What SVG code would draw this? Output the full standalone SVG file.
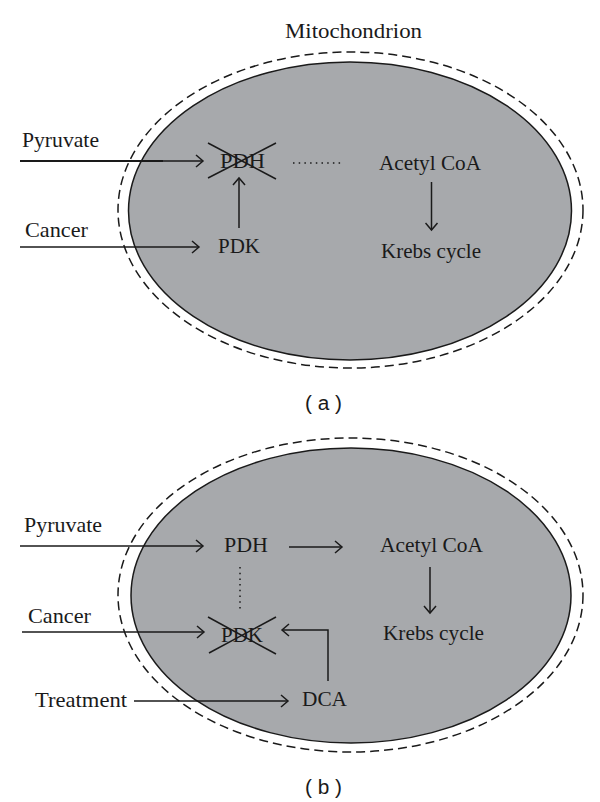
<svg xmlns="http://www.w3.org/2000/svg" width="600" height="802" viewBox="0 0 600 802">
<style>
.t{font-family:"Liberation Serif","Times New Roman",serif;font-size:21.5px;fill:#1a1a1a}
.lab{font-family:"Liberation Sans",Arial,sans-serif;font-size:20px;fill:#1a1a1a}
.ln{stroke:#1a1a1a;stroke-width:1.5;fill:none}
.cell{fill:#a7a9ac;stroke:#1a1a1a;stroke-width:1.5}
.mem{fill:none;stroke:#1a1a1a;stroke-width:1.5;stroke-dasharray:9 5}
.dot{stroke:#1a1a1a;stroke-width:1.5;fill:none;stroke-dasharray:1.5 4.2}
</style>
<defs>
<marker id="ah" markerWidth="12" markerHeight="14" refX="9" refY="7" orient="auto" markerUnits="userSpaceOnUse">
<path d="M2,1 L9,7 L2,13" fill="none" stroke="#1a1a1a" stroke-width="1.5"/>
</marker>
</defs>
<rect width="600" height="802" fill="#fff"/>

<!-- Panel (a) -->
<g id="mito-a">
<ellipse class="mem" cx="350.5" cy="210" rx="232.5" ry="158"/>
<ellipse class="cell" cx="350" cy="211" rx="221.5" ry="149"/>
<text class="t" x="285" y="38" textLength="137" lengthAdjust="spacingAndGlyphs">Mitochondrion</text>
</g>
<g id="pyruvate-a"><text class="t" x="22" y="147" textLength="77" lengthAdjust="spacingAndGlyphs">Pyruvate</text></g>
<g id="cancer-a"><text class="t" x="25" y="237" textLength="63" lengthAdjust="spacingAndGlyphs">Cancer</text></g>
<g id="pdh-a">
<text class="t" x="220" y="168" textLength="45" lengthAdjust="spacingAndGlyphs">PDH</text>
<line class="ln" x1="208" y1="143" x2="276" y2="179"/>
<line class="ln" x1="208" y1="178" x2="276" y2="143"/>
</g>
<g id="pdk-a"><text class="t" x="218" y="253" textLength="42" lengthAdjust="spacingAndGlyphs">PDK</text></g>
<g id="acetyl-a"><text class="t" x="379" y="170" textLength="102" lengthAdjust="spacingAndGlyphs">Acetyl CoA</text></g>
<g id="krebs-a"><text class="t" x="381" y="258" textLength="100" lengthAdjust="spacingAndGlyphs">Krebs cycle</text></g>
<g id="label-a"><text class="lab" x="305" y="410" textLength="37" lengthAdjust="spacingAndGlyphs">( a )</text></g>

<g id="connectors-a">
<line class="ln" x1="20" y1="161" x2="203" y2="161" marker-end="url(#ah)"/>
<line x1="20" y1="161" x2="163" y2="161" stroke="#1a1a1a" stroke-width="2.2"/>
<line class="ln" x1="20" y1="247" x2="199" y2="247" marker-end="url(#ah)"/>
<line class="ln" x1="239" y1="228" x2="239" y2="178" marker-end="url(#ah)"/>
<line class="dot" x1="293" y1="163" x2="344" y2="163"/>
<line class="ln" x1="431.5" y1="182" x2="431.5" y2="230" marker-end="url(#ah)"/>
</g>

<!-- Panel (b) -->
<g id="mito-b">
<ellipse class="mem" cx="350.5" cy="595" rx="232.5" ry="157"/>
<ellipse class="cell" cx="351" cy="595.5" rx="220" ry="147.5"/>
</g>
<g id="pyruvate-b"><text class="t" x="24" y="532" textLength="78" lengthAdjust="spacingAndGlyphs">Pyruvate</text></g>
<g id="cancer-b"><text class="t" x="28" y="623" textLength="63" lengthAdjust="spacingAndGlyphs">Cancer</text></g>
<g id="treatment-b"><text class="t" x="35" y="707" textLength="92" lengthAdjust="spacingAndGlyphs">Treatment</text></g>
<g id="pdh-b"><text class="t" x="224" y="552" textLength="44" lengthAdjust="spacingAndGlyphs">PDH</text></g>
<g id="acetyl-b"><text class="t" x="380" y="552" textLength="103" lengthAdjust="spacingAndGlyphs">Acetyl CoA</text></g>
<g id="krebs-b"><text class="t" x="383" y="640" textLength="101" lengthAdjust="spacingAndGlyphs">Krebs cycle</text></g>
<g id="pdk-b">
<text class="t" x="221" y="642" textLength="42" lengthAdjust="spacingAndGlyphs">PDK</text>
<line class="ln" x1="208" y1="617" x2="276" y2="654"/>
<line class="ln" x1="209" y1="653" x2="276" y2="617"/>
</g>
<g id="dca-b"><text class="t" x="302" y="706" textLength="45" lengthAdjust="spacingAndGlyphs">DCA</text></g>
<g id="label-b"><text class="lab" x="305" y="794" textLength="37" lengthAdjust="spacingAndGlyphs">( b )</text></g>

<g id="connectors-b">
<line class="ln" x1="20" y1="546" x2="203" y2="546" marker-end="url(#ah)"/>
<line class="ln" x1="289" y1="547" x2="342" y2="547" marker-end="url(#ah)"/>
<line class="ln" x1="430" y1="567" x2="430" y2="613" marker-end="url(#ah)"/>
<line class="dot" x1="240" y1="567" x2="240" y2="612"/>
<line class="ln" x1="22" y1="632" x2="204" y2="632" marker-end="url(#ah)"/>
<polyline class="ln" points="328,681 328,630 282,630" marker-end="url(#ah)"/>
<line class="ln" x1="134" y1="701" x2="288" y2="701" marker-end="url(#ah)"/>
</g>
</svg>
